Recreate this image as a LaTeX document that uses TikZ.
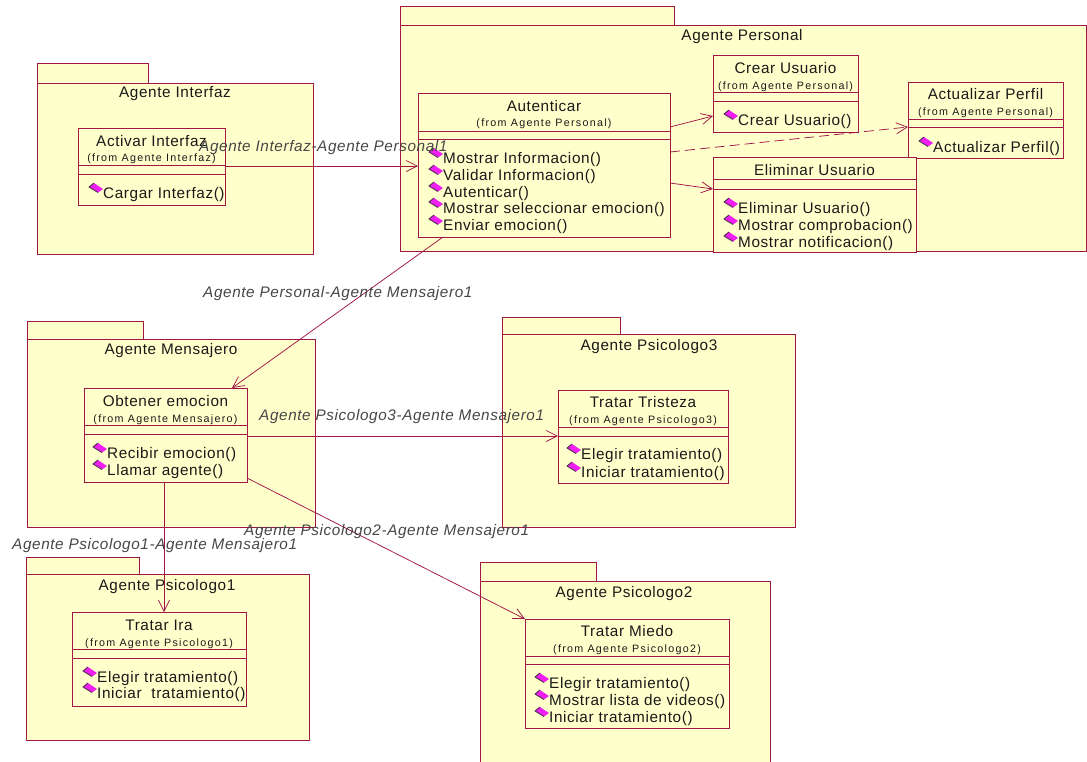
\documentclass[tikz,border=0pt]{standalone}
\usepackage{fontspec}
\setmainfont{Liberation Sans}[LetterSpace=4]
\newfontfamily\fromfont{Liberation Sans}[LetterSpace=12]
\usetikzlibrary{arrows.meta}

\definecolor{umledge}{RGB}{160,20,70}
\definecolor{umlfill}{RGB}{255,255,204}
\definecolor{umltext}{RGB}{25,25,25}
\definecolor{assoctext}{RGB}{70,70,70}
\definecolor{opfill}{RGB}{240,30,240}
\definecolor{opedge}{RGB}{80,50,80}

\tikzset{
  pkgbox/.style={draw=umledge, fill=umlfill, line width=1pt, inner sep=0pt, outer sep=0pt},
  classbox/.style={pkgbox},
  divider/.style={draw=umledge, line width=0.9pt},
  assoc/.style={draw=umledge, line width=0.75pt,
    -{Straight Barb[length=11pt,width=11pt,line width=0.75pt]}},
  nametext/.style={inner sep=0pt, anchor=base, text=umltext,
    font=\fontsize{15.3}{18}\selectfont},
  fromtext/.style={inner sep=0pt, anchor=base, text=umltext,
    font=\fromfont\fontsize{10.7}{12}\selectfont},
  optext/.style={inner sep=0pt, anchor=base west, text=umltext,
    font=\fontsize{15.3}{18}\selectfont},
  assoclabel/.style={inner sep=0pt, anchor=base west, text=assoctext,
    font=\itshape\fontsize{15.3}{18}\selectfont},
}

% package: id, left x, tab top, tab right x, body top, right x, bottom
\newcommand\umlpkg[7]{%
  \node[pkgbox, anchor=north west, minimum width={#4-#2}, minimum height={#5-#3}] (#1-tab) at (#2,#3) {};
  \node[pkgbox, anchor=north west, minimum width={#6-#2}, minimum height={#7-#5}] (#1) at (#2,#5) {};}
% class box: id, x1, y1, x2, y2
\newcommand\umlclass[5]{%
  \node[classbox, anchor=north west, minimum width={#4-#2}, minimum height={#5-#3}] (#1) at (#2,#3) {};}
% compartment line: x1, x2, y
\newcommand\umlsep[3]{\draw[divider] (#1,#3) -- (#2,#3);}
% operation icon at text start x, baseline y
\newcommand\opicon[2]{%
  \fill[opfill] ({#1-14},{#2-11}) -- ({#1-9},{#2-15}) -- ({#1},{#2-9}) -- ({#1-5},{#2-5.5}) -- cycle;
  \draw[opedge, line width=0.9pt, line join=round] ({#1-5},{#2-5.5}) -- ({#1-14},{#2-11}) -- ({#1-9},{#2-15});}
% operation line: id, x, baseline y, text
\newcommand\opline[4]{\node[optext] (#1) at (#2,#3) {#4};\opicon{#2}{#3}}

\begin{document}
\begin{tikzpicture}[x=1pt,y=-1pt]
\useasboundingbox (0,0) rectangle (1087,761);
\clip (0,0) rectangle (1087,761);

% ---------- packages ----------
\umlpkg{pInterfaz}{37}{63}{148}{83}{313}{254}
\node[nametext] (tInterfaz) at (175,97) {Agente Interfaz};

\umlpkg{pPersonal}{400}{6}{674}{25}{1086}{251}
\node[nametext] (tPersonal) at (742,40) {Agente Personal};

\umlpkg{pMensajero}{27}{321}{143}{339}{315}{527}
\node[nametext] (tMensajero) at (171,354) {Agente Mensajero};

\umlpkg{pPsico3}{502}{317}{620}{334}{795}{527}
\node[nametext] (tPsico3) at (649,350) {Agente Psicologo3};

\umlpkg{pPsico1}{26}{557}{139}{574}{309}{740}
\node[nametext] (tPsico1) at (167,590) {Agente Psicologo1};

\umlpkg{pPsico2}{480}{562}{596}{581}{770}{770}
\node[nametext] (tPsico2) at (624,597) {Agente Psicologo2};

% ---------- classes ----------
\umlclass{activar}{78}{128}{225}{205}
\node[nametext] (nActivar) at (151.5,146) {Activar Interfaz};
\node[fromtext] (fActivar) at (151.5,161) {(from Agente Interfaz)};
\umlsep{78}{225}{165}\umlsep{78}{225}{174}
\opline{oActivar1}{103}{198}{Cargar Interfaz()}

\umlclass{autent}{418}{93}{670}{237}
\node[nametext] (nAutent) at (544,111) {Autenticar};
\node[fromtext] (fAutent) at (544,126) {(from Agente Personal)};
\umlsep{418}{670}{131}\umlsep{418}{670}{139}
\opline{oAutent1}{443}{163}{Mostrar Informacion()}
\opline{oAutent2}{443}{180}{Validar Informacion()}
\opline{oAutent3}{443}{197}{Autenticar()}
\opline{oAutent4}{443}{213}{Mostrar seleccionar emocion()}
\opline{oAutent5}{443}{230}{Enviar emocion()}

\umlclass{crear}{713}{55}{858}{132}
\node[nametext] (nCrear) at (785.5,73) {Crear Usuario};
\node[fromtext] (fCrear) at (785.5,89) {(from Agente Personal)};
\umlsep{713}{858}{92}\umlsep{713}{858}{101}
\opline{oCrear1}{738}{125}{Crear Usuario()}

\umlclass{actual}{908}{82}{1063}{158}
\node[nametext] (nActual) at (985.5,99) {Actualizar Perfil};
\node[fromtext] (fActual) at (985.5,115) {(from Agente Personal)};
\umlsep{908}{1063}{119}\umlsep{908}{1063}{127}
\opline{oActual1}{933}{152}{Actualizar Perfil()}

\umlclass{elim}{713}{157}{916}{252}
\node[nametext] (nElim) at (814.5,175) {Eliminar Usuario};
\umlsep{713}{916}{179}\umlsep{713}{916}{189}
\opline{oElim1}{738}{213}{Eliminar Usuario()}
\opline{oElim2}{738}{230}{Mostrar comprobacion()}
\opline{oElim3}{738}{247}{Mostrar notificacion()}

\umlclass{obtener}{84}{388}{247}{482}
\node[nametext] (nObtener) at (165.5,406) {Obtener emocion};
\node[fromtext] (fObtener) at (165.5,422) {(from Agente Mensajero)};
\umlsep{84}{247}{425}\umlsep{84}{247}{434}
\opline{oObtener1}{107}{458}{Recibir emocion()}
\opline{oObtener2}{107}{475}{Llamar agente()}

\umlclass{tristeza}{558}{390}{728}{483}
\node[nametext] (nTristeza) at (643,407) {Tratar Tristeza};
\node[fromtext] (fTristeza) at (643,423) {(from Agente Psicologo3)};
\umlsep{558}{728}{427}\umlsep{558}{728}{436}
\opline{oTristeza1}{581}{459}{Elegir tratamiento()}
\opline{oTristeza2}{581}{477}{Iniciar tratamiento()}

\umlclass{ira}{72}{612}{246}{706}
\node[nametext] (nIra) at (159,630) {Tratar Ira};
\node[fromtext] (fIra) at (159,646) {(from Agente Psicologo1)};
\umlsep{72}{246}{649}\umlsep{72}{246}{658}
\opline{oIra1}{97}{682}{Elegir tratamiento()}
\opline{oIra2}{97}{698}{Iniciar\ \ tratamiento()}

\umlclass{miedo}{525}{619}{729}{728}
\node[nametext] (nMiedo) at (627,636) {Tratar Miedo};
\node[fromtext] (fMiedo) at (627,652) {(from Agente Psicologo2)};
\umlsep{525}{729}{656}\umlsep{525}{729}{664}
\opline{oMiedo1}{549}{688}{Elegir tratamiento()}
\opline{oMiedo2}{549}{705}{Mostrar lista de videos()}
\opline{oMiedo3}{549}{722}{Iniciar tratamiento()}

% ---------- associations ----------
\draw[assoc] (activar.east |- 0,166) -- (autent.west |- 0,166);
\draw[assoc] (autent.east |- 0,127) -- (crear.west |- 0,116);
\draw[assoc, dash pattern=on 10pt off 5pt] (autent.east |- 0,152) -- (actual.west |- 0,127);
\draw[assoc] (autent.east |- 0,183) -- (elim.west |- 0,189);
\draw[assoc] (autent.south -| 443,0) -- (obtener.north -| 232,0);
\draw[assoc] (obtener.east |- 0,436) -- (tristeza.west |- 0,436);
\draw[assoc] (obtener.south -| 164,0) -- (ira.north -| 164,0);
\draw[assoc] (obtener.east |- 0,478) -- (miedo.north west);

% ---------- association names ----------
\node[assoclabel] (lInterfaz) at (199,151) {Agente Interfaz-Agente Personal1};
\node[assoclabel] (lPersonal) at (203,297) {Agente Personal-Agente Mensajero1};
\node[assoclabel] (lPsico3) at (259,420) {Agente Psicologo3-Agente Mensajero1};
\node[assoclabel] (lPsico2) at (244,535) {Agente Psicologo2-Agente Mensajero1};
\node[assoclabel] (lPsico1) at (12,549) {Agente Psicologo1-Agente Mensajero1};
\end{tikzpicture}
\end{document}
